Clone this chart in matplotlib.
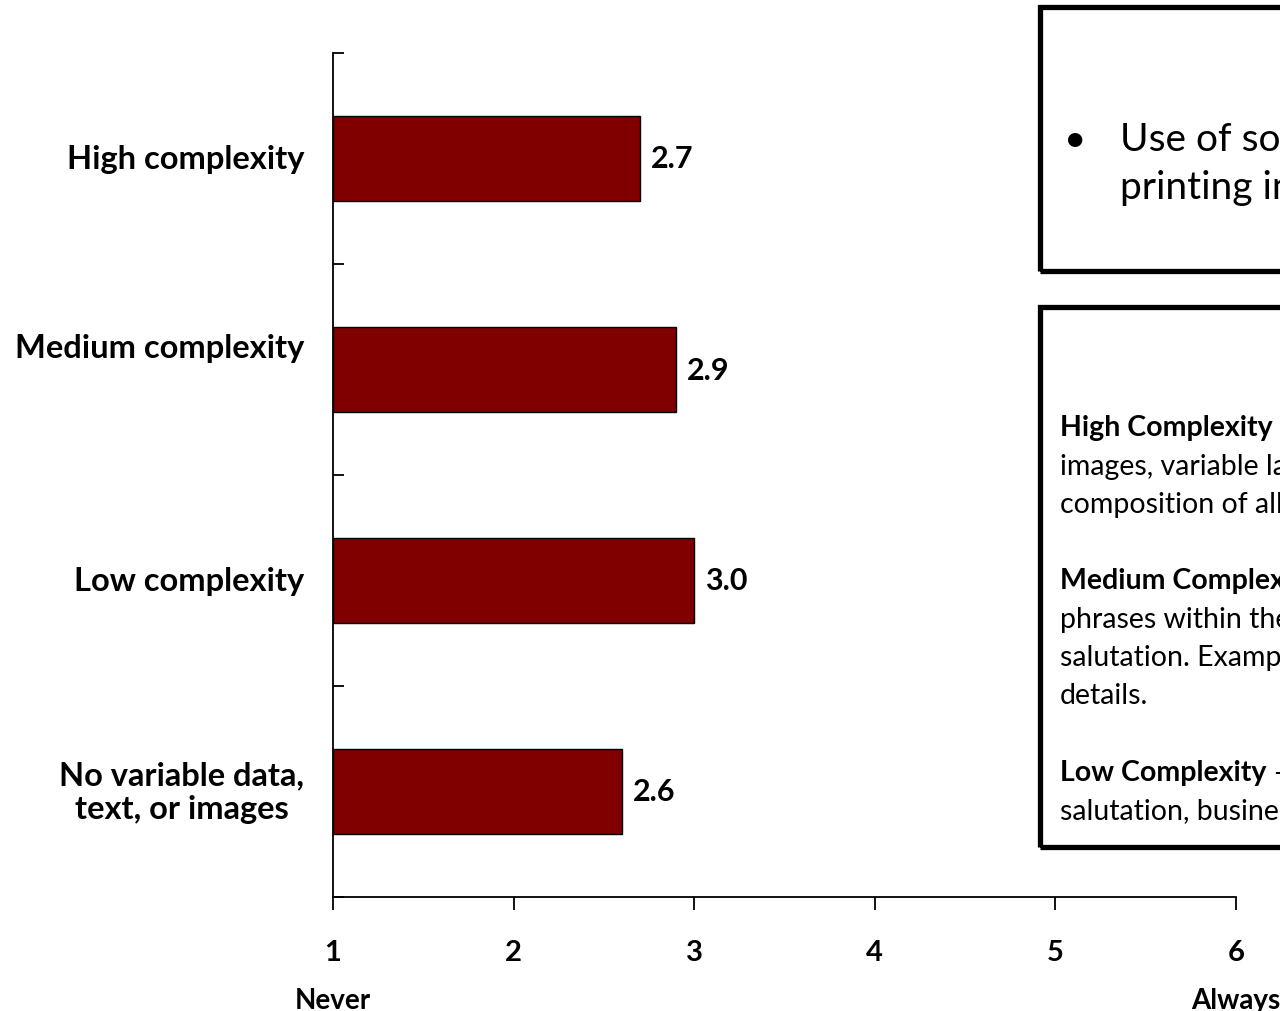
import matplotlib
matplotlib.use("Agg")
import matplotlib.pyplot as plt
from matplotlib.patches import Rectangle
from matplotlib.transforms import offset_copy

plt.rcParams['font.family'] = ['Lato', 'DejaVu Sans']

# Mean usage score per job complexity (1 = Never, 6 = Always)
categories = ["No variable data,\ntext, or images", "Low complexity",
              "Medium complexity", "High complexity"]
values = [2.6, 3.0, 2.9, 2.7]
xticks = [1, 2, 3, 4, 5, 6]
scale_ends = ["Never", "Always"]

bar_color = "#800000"

fig = plt.figure(figsize=(12.8, 10.12), dpi=100)
ax = fig.add_axes([333 / 1280, 1 - 898 / 1012, (1236 - 333) / 1280, (898 - 54) / 1012])

ypos = [i + 0.5 for i in range(len(categories))]
ax.barh(ypos, [v - 1 for v in values], left=1, height=0.4,
        color=bar_color, edgecolor="black", linewidth=1.0)

ax.set_xlim(1, 6)
ax.set_ylim(0, len(categories))

for spine in ("top", "right"):
    ax.spines[spine].set_visible(False)
for spine in ("left", "bottom"):
    ax.spines[spine].set_linewidth(1.3)

ax.set_xticks(xticks)
ax.set_xticklabels([str(t) for t in xticks], fontsize=21, fontweight="bold")
ax.tick_params(axis="x", direction="out", length=9, width=1.3, pad=21)
ax.set_yticks(range(len(categories) + 1))
ax.set_yticklabels([])
ax.tick_params(axis="y", direction="in", length=8, width=1.3)

# Category labels to the left of the axis
for y, label in zip(ypos, categories):
    lift = 22 if label == "Medium complexity" else 0
    tr = offset_copy(ax.get_yaxis_transform(), fig=fig, x=0, y=lift, units="dots")
    ax.text(-0.032, y, label, transform=tr, fontsize=23.5, fontweight="bold",
            ha="right", va="center", multialignment="center")

# Value labels at the bar ends
for y, v in zip(ypos, values):
    ax.annotate(f"{v:.1f}", xy=(v, y), xytext=(8, 0), textcoords="offset points",
                fontsize=22, fontweight="bold", ha="left", va="center")

# Scale end labels
for xv, label in zip((xticks[0], xticks[-1]), scale_ends):
    ax.text(xv, -0.49, label, transform=ax.transData,
            fontsize=20, fontweight="bold", ha="center", va="center")

# Note boxes on the right
fig.patches.append(Rectangle((1040 / 1280, 1 - 272 / 1012), 300 / 1280, (272 - 8) / 1012,
                             transform=fig.transFigure, fill=False,
                             edgecolor="black", linewidth=3.8))
fig.patches.append(Rectangle((1040 / 1280, 1 - 848 / 1012), 300 / 1280, (848 - 308) / 1012,
                             transform=fig.transFigure, fill=False,
                             edgecolor="black", linewidth=3.8))

fig.text(1064 / 1280, 1 - 140 / 1012, "\u2022", fontsize=28, ha="left", va="center")
fig.text(1120 / 1280, 1 - 140 / 1012, "Use of software for variable data", fontsize=28,
         ha="left", va="center")
fig.text(1120 / 1280, 1 - 188 / 1012, "printing in commercial work", fontsize=28,
         ha="left", va="center")

notes = [
    (428, "High Complexity", " \u2013 variable text and"),
    (467, None, "images, variable layout and"),
    (505, None, "composition of all elements."),
    (581, "Medium Complexity", " \u2013 variable text"),
    (620, None, "phrases within the body beyond"),
    (658, None, "salutation. Example: product"),
    (696, None, "details."),
    (773, "Low Complexity", " \u2013 name,"),
    (811, None, "salutation, business address."),
]
for ypx, bold, rest in notes:
    y = 1 - ypx / 1012
    if bold:
        t = fig.text(1060 / 1280, y, bold, fontsize=20.5, fontweight="bold",
                     ha="left", va="center")
        ax.annotate(rest, xy=(1, 0.5), xycoords=t, fontsize=20.5,
                    ha="left", va="center", annotation_clip=False)
    else:
        fig.text(1060 / 1280, y, rest, fontsize=20.5, ha="left", va="center")

fig.savefig("out.png", dpi=100)
